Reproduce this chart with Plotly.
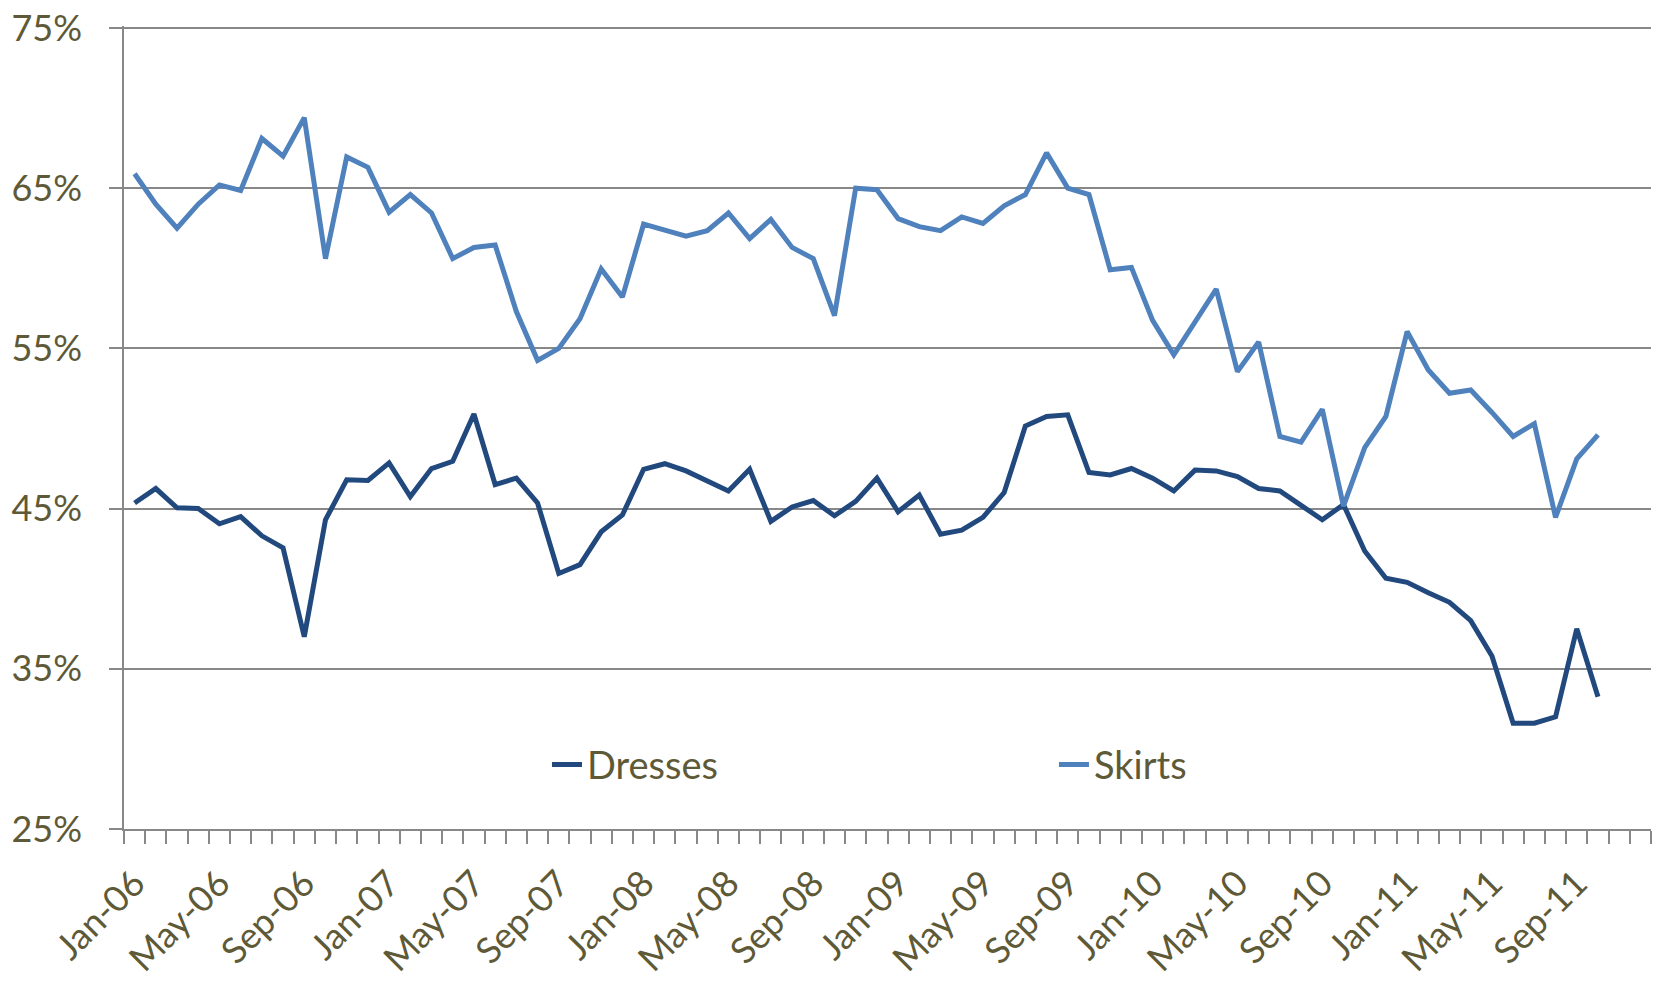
import plotly.graph_objects as go

# ---- DATA ----
months = [
    f"{m}-{y:02d}"
    for y in range(6, 12)
    for m in ["Jan", "Feb", "Mar", "Apr", "May", "Jun",
              "Jul", "Aug", "Sep", "Oct", "Nov", "Dec"]
]

dresses = [
    45.35, 46.25, 45.05, 45.0, 44.05, 44.5, 43.3, 42.55, 37.0, 44.3,
    46.8, 46.75, 47.85, 45.75, 47.5, 47.95, 50.9, 46.5, 46.9, 45.35,
    40.95, 41.5, 43.55, 44.6, 47.45, 47.8, 47.35, 46.75, 46.1, 47.45,
    44.2, 45.1, 45.5, 44.55, 45.45, 46.9, 44.8, 45.85, 43.4, 43.65,
    44.45, 46.0, 50.15, 50.75, 50.85, 47.25, 47.1, 47.5, 46.9, 46.1,
    47.4, 47.35, 47.0, 46.25, 46.1, 45.2, 44.3, 45.25, 42.35, 40.65,
    40.4, 39.75, 39.15, 38.0, 35.8, 31.6, 31.6, 32.0, 37.5, 33.25,
]

skirts = [
    65.9, 64.0, 62.5, 64.0, 65.2, 64.85, 68.1, 67.0, 69.4, 60.6,
    66.95, 66.3, 63.5, 64.6, 63.45, 60.6, 61.3, 61.45, 57.3, 54.25,
    55.0, 56.85, 59.95, 58.2, 62.75, 62.4, 62.0, 62.35, 63.45, 61.85,
    63.05, 61.3, 60.6, 57.05, 65.0, 64.9, 63.1, 62.6, 62.35, 63.2,
    62.8, 63.9, 64.6, 67.2, 65.0, 64.6, 59.9, 60.05, 56.75, 54.6,
    56.7, 58.7, 53.55, 55.4, 49.5, 49.15, 51.2, 45.15, 48.8, 50.75,
    56.05, 53.65, 52.2, 52.4, 51.0, 49.5, 50.3, 44.45, 48.1, 49.6,
]

label_every = 4
y_ticks = [25, 35, 45, 55, 65, 75]

TEXT = "#5E5936"
GRID = "#888888"
FONT = "Lato"

idx = list(range(len(months)))

fig = go.Figure()

fig.add_trace(go.Scatter(
    x=idx[:len(dresses)], y=dresses, mode="lines", name="Dresses",
    line=dict(color="#22497E", width=5),
))
fig.add_trace(go.Scatter(
    x=idx[:len(skirts)], y=skirts, mode="lines", name="Skirts",
    line=dict(color="#4F81BD", width=5),
))

# page body adds ~8px offset, so the figure is a bit smaller than the window
fig.update_layout(
    width=1654, height=976,
    margin=dict(l=116, r=11, t=18, b=155),
    paper_bgcolor="white",
    plot_bgcolor="white",
    font=dict(family=FONT, size=36, color=TEXT),
    showlegend=True,
    legend=dict(
        orientation="h",
        x=0.277, y=0.08, xanchor="left", yanchor="middle",
        entrywidth=462,
        font=dict(size=38, color=TEXT),
        bgcolor="rgba(0,0,0,0)",
    ),
)

fig.update_xaxes(
    range=[-0.5, len(months) - 0.5],
    automargin=False,
    tickmode="array",
    tickvals=idx[::label_every],
    ticktext=months[::label_every],
    tickangle=-45,
    ticks="",
    ticklabelstandoff=17,
    ticklabeloverflow="allow",
    showgrid=False,
    zeroline=False,
    showline=True, linecolor=GRID, linewidth=1.5,
    tickfont=dict(size=36, color=TEXT),
    minor=dict(
        tickmode="linear", tick0=0.5, dtick=1,
        ticks="outside", ticklen=13, tickcolor=GRID, tickwidth=1.5,
        showgrid=False,
    ),
)

# small headroom so the top gridline at 75% is not dropped
fig.update_yaxes(
    range=[25, 75.12],
    automargin=False,
    tickmode="array",
    tickvals=y_ticks,
    ticktext=[f"{v}%" for v in y_ticks],
    ticks="outside", ticklen=13, tickcolor=GRID, tickwidth=1.5,
    ticklabelstandoff=20,
    ticklabeloverflow="allow",
    showgrid=True, gridcolor=GRID, gridwidth=1.5,
    zeroline=False,
    showline=True, linecolor=GRID, linewidth=1.5,
    tickfont=dict(size=36, color=TEXT),
)

fig.write_html("out.html")
